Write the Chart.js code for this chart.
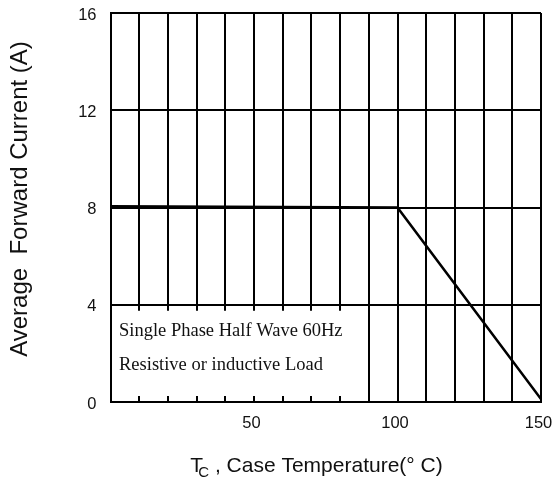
<!DOCTYPE html>
<html><head><meta charset="utf-8">
<script src="https://cdn.jsdelivr.net/npm/chart.js@4/dist/chart.umd.min.js"></script>
<style>html,body{margin:0;padding:0;background:#fff;}canvas{display:block;}</style>
</head><body>
<canvas id="c" width="552" height="483"></canvas>
<script>
// ---- data ----
const caseTemp = [0, 100, 150];
const avgCurrent = [8.05, 8.0, 0.12];
const xTickLabels = [50, 100, 150];
const yTickValues = [0, 4, 8, 12, 16];
const noteLines = ['Single Phase Half Wave 60Hz', 'Resistive or inductive Load'];
const xTitleMain = 'T', xTitleSub = 'C', xTitleRest = ' , Case Temperature(\u00B0 C)';
const yTitleText = 'Average  Forward Current (A)';
const noteBoxX = [0, 85];
const noteBoxY = [0, 4];

const tickFont = {family: '"Liberation Sans", Arial, sans-serif', size: 16.5};

const notePlugin = {
  id: 'note',
  beforeDatasetsDraw(chart) {
    const {ctx, scales: {x, y}} = chart;
    const l = x.getPixelForValue(noteBoxX[0]) + 1.5, r = x.getPixelForValue(noteBoxX[1]);
    const t = y.getPixelForValue(noteBoxY[1]) + 6, b = y.getPixelForValue(noteBoxY[0]) - 6;
    ctx.save();
    ctx.fillStyle = '#fff';
    ctx.fillRect(l, t, r - l, b - t);
    ctx.fillStyle = '#111';
    ctx.font = '18.5px "Liberation Serif", "Times New Roman", serif';
    ctx.textAlign = 'left';
    ctx.textBaseline = 'alphabetic';
    const y4 = y.getPixelForValue(noteBoxY[1]);
    ctx.fillText(noteLines[0], l + 7, y4 + 31.5);
    ctx.fillText(noteLines[1], l + 7, y4 + 65);
    ctx.restore();
  }
};

const titlePlugin = {
  id: 'titles',
  afterDraw(chart) {
    const {ctx} = chart;
    ctx.save();
    ctx.fillStyle = '#111';
    ctx.textAlign = 'left';
    ctx.textBaseline = 'alphabetic';
    const mainFont = '21px "Liberation Sans", Arial, sans-serif';
    const subFont = '15px "Liberation Sans", Arial, sans-serif';
    ctx.font = mainFont;
    const wT = ctx.measureText(xTitleMain).width;
    const wRest = ctx.measureText(xTitleRest).width;
    ctx.font = subFont;
    const wC = ctx.measureText(xTitleSub).width;
    const subDx = wT * 0.62;
    const total = subDx + wC + wRest;
    const cx = 316.5;
    let sx = cx - total / 2;
    const base = 471.7;
    ctx.font = mainFont;
    ctx.fillText(xTitleMain, sx, base);
    ctx.font = subFont;
    ctx.fillText(xTitleSub, sx + subDx, base + 5.5);
    ctx.font = mainFont;
    ctx.fillText(xTitleRest, sx + subDx + wC, base);
    // y title
    ctx.translate(20, 199);
    ctx.rotate(-Math.PI / 2);
    ctx.font = '24px "Liberation Sans", Arial, sans-serif';
    ctx.textAlign = 'center';
    ctx.textBaseline = 'middle';
    ctx.fillText(yTitleText, 0, 0);
    ctx.restore();
  }
};

new Chart(document.getElementById('c'), {
  type: 'line',
  data: {
    datasets: [{
      data: caseTemp.map((t, i) => ({x: t, y: avgCurrent[i]})),
      borderColor: '#000',
      borderWidth: 2.6,
      pointRadius: 0,
      tension: 0,
      fill: false
    }]
  },
  options: {
    responsive: false,
    animation: false,
    events: [],
    layout: {padding: 0},
    plugins: {legend: {display: false}, tooltip: {enabled: false}},
    scales: {
      x: {
        type: 'linear', min: 0, max: 150,
        afterFit(s) { s.height = 81; s.paddingLeft = 0; s.paddingRight = 11; },
        grid: {color: '#000', lineWidth: 2, drawTicks: false},
        border: {color: '#000', width: 2},
        ticks: {
          stepSize: 10, padding: 12, labelOffset: -2.5, color: '#111', font: tickFont, maxRotation: 0, autoSkip: false,
          callback: v => xTickLabels.includes(v) ? String(v) : ''
        }
      },
      y: {
        type: 'linear', min: 0, max: 16,
        afterFit(s) { s.width = 110.5; s.paddingTop = 13; s.paddingBottom = 0; },
        afterBuildTicks(s) { s.ticks = yTickValues.map(v => ({value: v})); },
        grid: {color: '#000', lineWidth: 2, drawTicks: false},
        border: {color: '#000', width: 2},
        ticks: {padding: 14, labelOffset: 2, color: '#111', font: tickFont}
      }
    }
  },
  plugins: [notePlugin, titlePlugin]
});
</script>
</body></html>
